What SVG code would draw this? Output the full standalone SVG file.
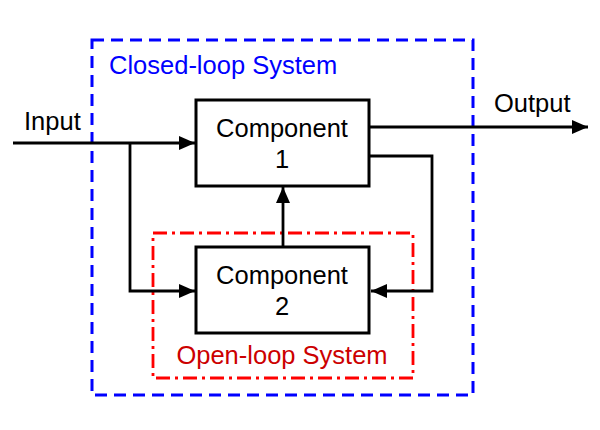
<svg xmlns="http://www.w3.org/2000/svg" width="600" height="430" viewBox="0 0 600 430">
<defs>
<marker id="ah" markerWidth="16" markerHeight="14" refX="16" refY="7" orient="auto" markerUnits="userSpaceOnUse">
<path d="M0,0 L16,7 L0,14 Z" fill="#000"/>
</marker>
<style>
text{font-family:"Liberation Sans",Arial,sans-serif;font-size:25.5px}
.box{fill:#fff;stroke:#000;stroke-width:3}
.wire{fill:none;stroke:#000;stroke-width:2.8}
.lbl{fill:#000;text-anchor:middle}
</style>
</defs>
<rect width="600" height="430" fill="#fff"/>
<g id="closed-loop">
<rect x="92" y="40" width="381" height="355" fill="none" stroke="#0000ff" stroke-width="3" stroke-dasharray="12,7"/>
<text x="109" y="74" fill="#0000ff">Closed-loop System</text>
</g>
<g id="open-loop">
<rect x="153" y="233" width="260" height="145" fill="none" stroke="#ff0000" stroke-width="2.8" stroke-dasharray="14,5,3,5"/>
<text x="282" y="364" fill="#cc0000" text-anchor="middle">Open-loop System</text>
</g>
<g id="connectors">
<path class="wire" d="M13,143 H195" marker-end="url(#ah)"/>
<path class="wire" d="M130,143 V291 H195" marker-end="url(#ah)"/>
<path class="wire" d="M283,247 V187" marker-end="url(#ah)"/>
<path class="wire" d="M369,156 H432 V291 H371" marker-end="url(#ah)"/>
<path class="wire" d="M369,127 H588" marker-end="url(#ah)"/>
</g>
<g id="component1">
<rect class="box" x="196" y="100" width="173" height="86"/>
<text class="lbl" x="282" y="137">Component</text>
<text class="lbl" x="282" y="168">1</text>
</g>
<g id="component2">
<rect class="box" x="196" y="247" width="173" height="86"/>
<text class="lbl" x="282" y="284">Component</text>
<text class="lbl" x="282" y="315">2</text>
</g>
<g id="io-labels">
<text x="24" y="130">Input</text>
<text x="494" y="112">Output</text>
</g>
</svg>
